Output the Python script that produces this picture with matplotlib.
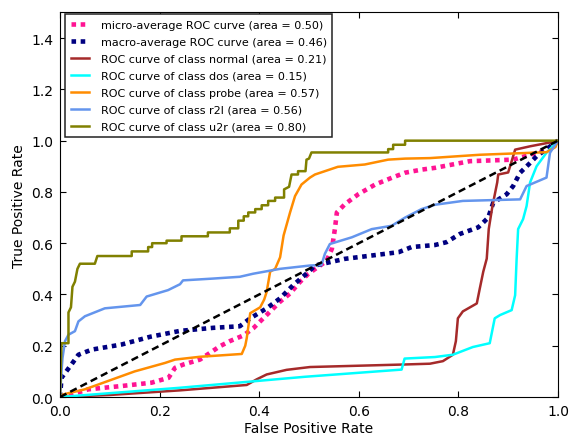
import matplotlib
matplotlib.use("Agg")
import matplotlib.pyplot as plt

# ROC points per curve (false positive rate, true positive rate)
micro_fpr = [0.0, 0.006, 0.057, 0.124, 0.184, 0.218, 0.231, 0.248, 0.281, 0.321, 0.341, 0.368,
             0.388, 0.415, 0.442, 0.462, 0.482, 0.499, 0.52, 0.535, 0.546, 0.552, 0.556, 0.572,
             0.599, 0.633, 0.666, 0.693, 0.726, 0.753, 0.823, 0.91, 0.98, 1.0]
micro_tpr = [0.0, 0.0, 0.03, 0.043, 0.056, 0.075, 0.114, 0.127, 0.146, 0.198, 0.218, 0.24,
             0.268, 0.32, 0.372, 0.404, 0.449, 0.481, 0.51, 0.53, 0.578, 0.655, 0.72, 0.752,
             0.791, 0.829, 0.855, 0.875, 0.887, 0.894, 0.92, 0.926, 0.965, 1.0]

macro_fpr = [0.0, 0.003, 0.023, 0.037, 0.064, 0.124, 0.181, 0.241, 0.308, 0.361, 0.382, 0.415,
             0.442, 0.468, 0.499, 0.512, 0.572, 0.626, 0.68, 0.706, 0.753, 0.776, 0.803, 0.84,
             0.86, 0.87, 0.897, 0.91, 0.924, 0.944, 0.957, 1.0]
macro_tpr = [0.0, 0.075, 0.127, 0.165, 0.185, 0.205, 0.235, 0.258, 0.27, 0.276, 0.307, 0.346,
             0.385, 0.436, 0.488, 0.513, 0.539, 0.552, 0.565, 0.585, 0.593, 0.604, 0.636, 0.662,
             0.70, 0.758, 0.791, 0.823, 0.875, 0.913, 0.939, 1.0]

normal_fpr = [0.0, 0.1, 0.241, 0.375, 0.395, 0.415, 0.455, 0.502, 0.693, 0.743, 0.769, 0.789,
              0.795, 0.799, 0.809, 0.837, 0.843, 0.85, 0.857, 0.861, 0.868, 0.878, 0.88, 0.90,
              0.907, 0.914, 0.944, 0.984, 1.0]
normal_tpr = [0.0, 0.008, 0.026, 0.047, 0.069, 0.088, 0.106, 0.117, 0.127, 0.13, 0.14, 0.165,
              0.218, 0.307, 0.334, 0.365, 0.423, 0.489, 0.54, 0.655, 0.74, 0.837, 0.868, 0.876,
              0.92, 0.965, 0.978, 0.993, 1.0]

dos_fpr = [0.0, 0.24, 0.492, 0.686, 0.692, 0.753, 0.789, 0.829, 0.863, 0.873, 0.884, 0.907,
           0.914, 0.917, 0.92, 0.93, 0.937, 0.944, 0.957, 0.977, 1.0]
dos_tpr = [0.0, 0.036, 0.079, 0.107, 0.15, 0.156, 0.165, 0.195, 0.21, 0.307, 0.32, 0.339,
           0.397, 0.539, 0.655, 0.694, 0.745, 0.837, 0.90, 0.953, 1.0]

probe_fpr = [0.0, 0.006, 0.05, 0.1, 0.15, 0.211, 0.231, 0.281, 0.365, 0.372, 0.375, 0.382,
             0.402, 0.41, 0.415, 0.422, 0.432, 0.442, 0.449, 0.462, 0.472, 0.485, 0.502, 0.512,
             0.558, 0.612, 0.659, 0.693, 0.743, 0.843, 0.977, 0.995, 1.0]
probe_tpr = [0.0, 0.01, 0.03, 0.065, 0.10, 0.133, 0.146, 0.157, 0.168, 0.20, 0.23, 0.327,
             0.35, 0.38, 0.41, 0.489, 0.50, 0.545, 0.63, 0.72, 0.784, 0.829, 0.856, 0.868,
             0.898, 0.907, 0.926, 0.93, 0.932, 0.945, 0.955, 0.975, 1.0]

r2l_fpr = [0.0, 0.003, 0.005, 0.01, 0.017, 0.03, 0.037, 0.05, 0.09, 0.161, 0.174, 0.217,
           0.241, 0.247, 0.307, 0.361, 0.388, 0.442, 0.502, 0.525, 0.532, 0.542, 0.586, 0.626,
           0.666, 0.693, 0.726, 0.753, 0.809, 0.924, 0.937, 0.977, 0.984, 1.0]
r2l_tpr = [0.0, 0.10, 0.152, 0.218, 0.243, 0.257, 0.295, 0.315, 0.346, 0.359, 0.392, 0.417,
           0.44, 0.455, 0.462, 0.469, 0.481, 0.50, 0.513, 0.515, 0.559, 0.597, 0.623, 0.655,
           0.668, 0.70, 0.733, 0.75, 0.765, 0.771, 0.823, 0.856, 0.953, 1.0]

u2r_fpr = [0.0, 0.003, 0.017, 0.017, 0.022, 0.025, 0.03, 0.035, 0.04, 0.045, 0.07, 0.075,
           0.144, 0.144, 0.177, 0.177, 0.185, 0.185, 0.214, 0.214, 0.244, 0.244, 0.297, 0.297,
           0.341, 0.341, 0.358, 0.358, 0.369, 0.369, 0.378, 0.378, 0.392, 0.392, 0.405, 0.405,
           0.418, 0.418, 0.432, 0.432, 0.45, 0.45, 0.46, 0.465, 0.478, 0.478, 0.493, 0.495,
           0.5, 0.505, 0.659, 0.659, 0.669, 0.669, 0.693, 0.693, 1.0]
u2r_tpr = [0.0, 0.21, 0.21, 0.33, 0.35, 0.43, 0.45, 0.50, 0.52, 0.52, 0.52, 0.55,
           0.55, 0.568, 0.568, 0.585, 0.585, 0.60, 0.60, 0.61, 0.61, 0.627, 0.627, 0.642,
           0.642, 0.658, 0.658, 0.688, 0.688, 0.705, 0.705, 0.72, 0.72, 0.733, 0.733, 0.748,
           0.748, 0.765, 0.765, 0.778, 0.778, 0.81, 0.82, 0.868, 0.868, 0.881, 0.881, 0.926,
           0.93, 0.954, 0.954, 0.967, 0.967, 0.984, 0.984, 1.0, 1.0]

class_names = ["normal", "dos", "probe", "r2l", "u2r"]
class_areas = [0.21, 0.15, 0.57, 0.56, 0.80]
micro_area = 0.50
macro_area = 0.46

class_fpr = [normal_fpr, dos_fpr, probe_fpr, r2l_fpr, u2r_fpr]
class_tpr = [normal_tpr, dos_tpr, probe_tpr, r2l_tpr, u2r_tpr]
colors = ["#a52a2a", "aqua", "darkorange", "cornflowerblue", "olive"]

plt.rcParams["font.family"] = "DejaVu Sans"
plt.rcParams["xtick.direction"] = "in"
plt.rcParams["ytick.direction"] = "in"
plt.rcParams["xtick.top"] = True
plt.rcParams["ytick.right"] = True
plt.rcParams["xtick.major.size"] = 4
plt.rcParams["ytick.major.size"] = 4

fig = plt.figure(figsize=(5.77, 4.35), dpi=100, facecolor="white")
ax = fig.add_axes([0.104, 0.085, 0.863, 0.884])

dots = (0, (1.0, 1.0))
ax.plot(micro_fpr, micro_tpr, color="deeppink", linestyle=dots, linewidth=3.3,
        dash_capstyle="butt",
        label="micro-average ROC curve (area = {0:0.2f})".format(micro_area))
ax.plot(macro_fpr, macro_tpr, color="navy", linestyle=dots, linewidth=3.3,
        dash_capstyle="butt",
        label="macro-average ROC curve (area = {0:0.2f})".format(macro_area))

for fpr, tpr, color, name, area in zip(class_fpr, class_tpr, colors, class_names, class_areas):
    ax.plot(fpr, tpr, color=color, linewidth=1.8,
            label="ROC curve of class {0} (area = {1:0.2f})".format(name, area))

ax.plot([0, 1], [0, 1], color="black", linewidth=1.8, dashes=(2.9, 1.7))

ax.set_xlim(0.0, 1.0)
ax.set_ylim(0.0, 1.5)
ax.set_xticks([0.0, 0.2, 0.4, 0.6, 0.8, 1.0])
ax.set_yticks([0.0, 0.2, 0.4, 0.6, 0.8, 1.0, 1.2, 1.4])
ax.tick_params(labelsize=10, pad=5)
ax.set_xlabel("False Positive Rate", fontsize=10, labelpad=2)
ax.set_ylabel("True Positive Rate", fontsize=10, labelpad=4)

leg = ax.legend(loc="upper left", bbox_to_anchor=(0.01, 0.996), borderaxespad=0,
                fontsize=8, fancybox=False, framealpha=1, edgecolor="#222222",
                labelspacing=0.63, handlelength=1.7, handletextpad=1.0, borderpad=0.5)
leg.get_frame().set_linewidth(1.1)

fig.savefig("out.png", dpi=100, facecolor="white")
